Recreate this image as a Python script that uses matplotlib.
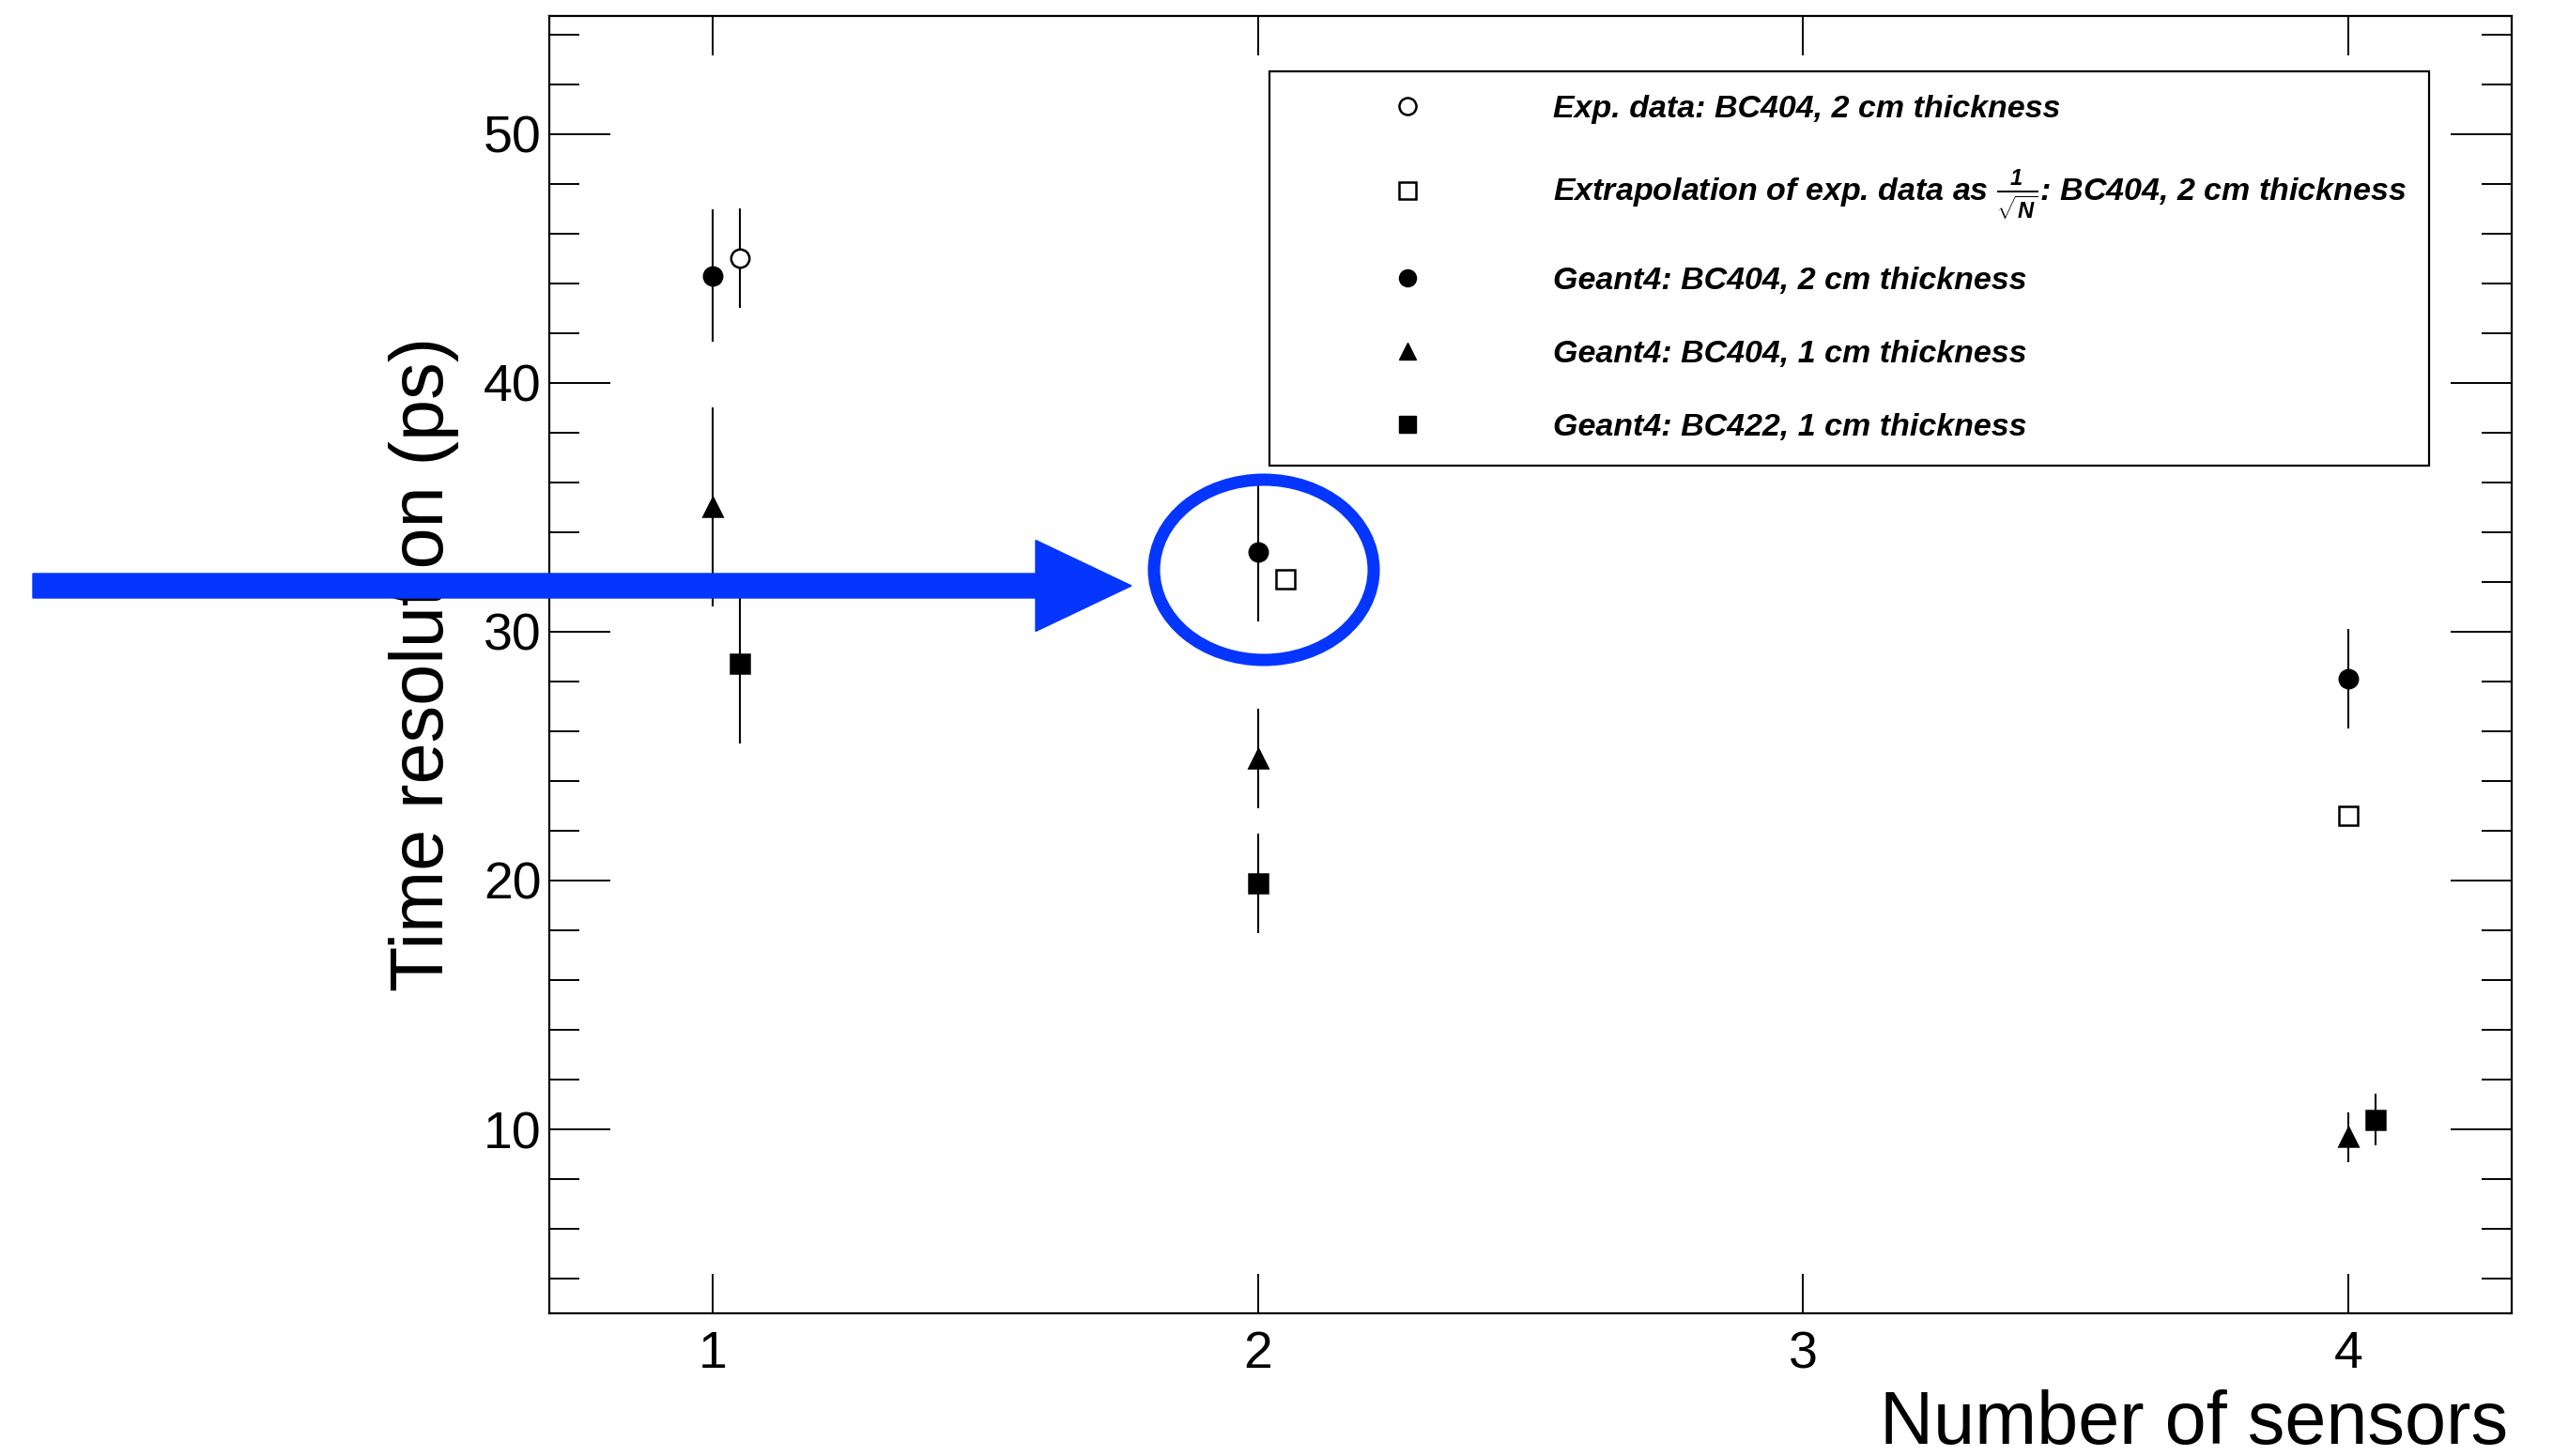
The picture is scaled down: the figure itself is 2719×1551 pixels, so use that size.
import matplotlib
matplotlib.use("Agg")
import matplotlib.pyplot as plt
from matplotlib.lines import Line2D
from matplotlib.patches import FancyArrow, Ellipse
from matplotlib.ticker import MultipleLocator

plt.rcParams['font.family'] = ['Liberation Sans', 'DejaVu Sans']
plt.rcParams['mathtext.fontset'] = 'custom'
plt.rcParams['mathtext.rm'] = 'Liberation Sans:italic:bold'
plt.rcParams['mathtext.it'] = 'Liberation Sans:italic:bold'
plt.rcParams['mathtext.bf'] = 'Liberation Sans:italic:bold'

# data
exp_x = [1.05]
exp_y = [45.0]
exp_err = [2.0]

extrap_x = [2.05, 4.0]
extrap_y = [32.1, 22.6]

g4_404_2cm_x = [1, 2, 4]
g4_404_2cm_y = [44.3, 33.2, 28.1]
g4_404_2cm_err = [2.65, 2.8, 2.0]

g4_404_1cm_x = [1, 2, 4]
g4_404_1cm_y = [35.0, 24.9, 9.7]
g4_404_1cm_err = [4.0, 2.0, 1.0]

g4_422_1cm_x = [1.05, 2, 4.05]
g4_422_1cm_y = [28.7, 19.9, 10.4]
g4_422_1cm_err = [3.2, 2.0, 1.05]

labels = [
    "Exp. data: BC404, 2 cm thickness",
    r"Extrapolation of exp. data as $\frac{1}{\sqrt{N}}$: BC404, 2 cm thickness",
    "Geant4: BC404, 2 cm thickness",
    "Geant4: BC404, 1 cm thickness",
    "Geant4: BC422, 1 cm thickness",
]

W, H = 2719, 1551
fig = plt.figure(figsize=(W / 100, H / 100), dpi=100)
ax = fig.add_axes([585 / W, 1 - 1399.3 / H, (2675 - 585) / W, (1399.3 - 16.7) / H])

ms = 14
eb = dict(ls='none', color='black', elinewidth=1.5, capsize=0, mew=1.8)
ax.errorbar(g4_404_2cm_x, g4_404_2cm_y, yerr=g4_404_2cm_err, marker='o', ms=ms, **eb)
ax.errorbar(g4_404_1cm_x, g4_404_1cm_y, yerr=g4_404_1cm_err, marker='^', ms=ms + 1, **eb)
ax.errorbar(g4_422_1cm_x, g4_422_1cm_y, yerr=g4_422_1cm_err, marker='s', ms=ms, **eb)
ax.errorbar(exp_x, exp_y, yerr=exp_err, marker='o', ms=ms, mfc='white', zorder=3, **eb)
ax.plot(extrap_x, extrap_y, ls='none', marker='s', ms=ms, mfc='white', mec='black', mew=1.8, zorder=3)

ax.set_xlim(0.7, 4.3)
ax.set_ylim(2.6, 54.75)
ax.xaxis.set_major_locator(MultipleLocator(1))
ax.yaxis.set_major_locator(MultipleLocator(10))
ax.yaxis.set_minor_locator(MultipleLocator(2))
ax.tick_params(axis='y', which='major', direction='in', length=47, width=1.4,
               left=True, right=True, labelsize=40, pad=6)
ax.tick_params(axis='y', which='minor', direction='in', length=23, width=1.4,
               left=True, right=True)
ax.tick_params(axis='x', which='major', direction='in', length=30, width=1.4,
               top=True, bottom=True, labelsize=40, pad=13)
ax.tick_params(axis='x', which='minor', bottom=False, top=False)
for sp in ax.spines.values():
    sp.set_linewidth(1.6)

fig.text(0.166, 1 - 707 / H, "Time resolution (ps)", rotation=90,
         ha='center', va='center', fontsize=57)
fig.text(2671 / W, 1 - 1538 / H, "Number of sensors", ha='right',
         va='baseline', fontsize=57)

# legend, markers only
lms = 13
handles = [
    Line2D([], [], ls='none', marker='o', ms=lms, mfc='white', mec='black', mew=1.8),
    Line2D([], [], ls='none', marker='s', ms=lms, mfc='white', mec='black', mew=1.8),
    Line2D([], [], ls='none', marker='o', ms=lms, color='black'),
    Line2D([], [], ls='none', marker='^', ms=lms, color='black'),
    Line2D([], [], ls='none', marker='s', ms=lms, color='black'),
]
leg = ax.legend(handles, labels, loc='upper left', bbox_to_anchor=(0.367, 0.957),
                borderaxespad=0, fancybox=False, framealpha=1, edgecolor='black',
                handlelength=7.2, handletextpad=0.95, borderpad=0.72, labelspacing=1.38,
                prop=dict(family='Liberation Sans', style='italic', weight='bold', size=24.5))
leg.get_frame().set_linewidth(1.6)

# blue annotation
blue = '#0536FF'
fig.add_artist(FancyArrow(35 / W, 1 - 624 / H, (1205 - 35) / W, 0,
                          width=26 / H, head_width=97 / H, head_length=102 / W,
                          length_includes_head=True, color=blue,
                          transform=fig.transFigure, zorder=10))
fig.add_artist(Ellipse((1346 / W, 1 - 607 / H), 234 / W, 192 / H, fill=False,
                       ec=blue, lw=9.4, transform=fig.transFigure, zorder=10))

fig.savefig("out.png", dpi=100)
